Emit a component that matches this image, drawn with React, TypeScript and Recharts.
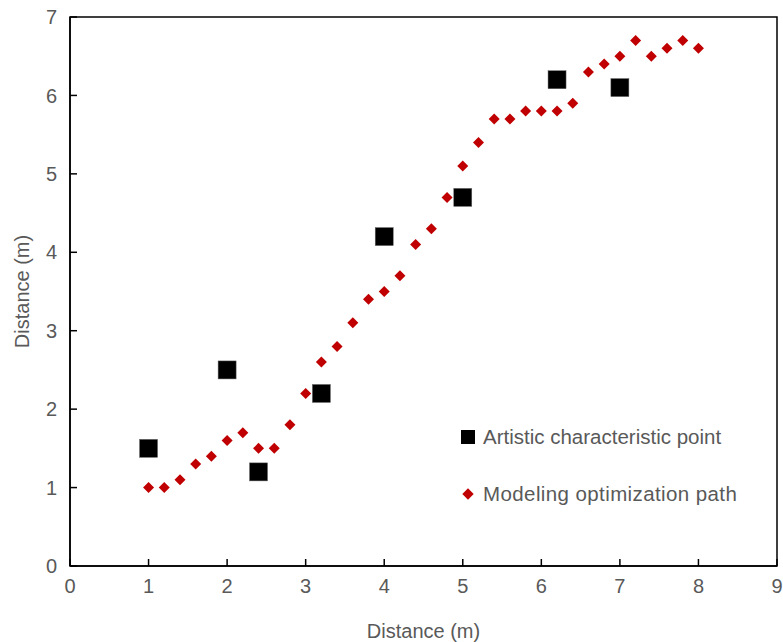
import React from 'react';
import { ScatterChart, Scatter, XAxis, YAxis, ReferenceArea } from 'recharts';

const artisticX = [1, 2, 2.4, 3.2, 4, 5, 6.2, 7];
const artisticY = [1.5, 2.5, 1.2, 2.2, 4.2, 4.7, 6.2, 6.1];

const pathX = [1, 1.2, 1.4, 1.6, 1.8, 2, 2.2, 2.4, 2.6, 2.8, 3, 3.2, 3.4, 3.6, 3.8, 4, 4.2, 4.4, 4.6, 4.8, 5, 5.2, 5.4, 5.6, 5.8, 6, 6.2, 6.4, 6.6, 6.8, 7, 7.2, 7.4, 7.6, 7.8, 8];
const pathY = [1, 1, 1.1, 1.3, 1.4, 1.6, 1.7, 1.5, 1.5, 1.8, 2.2, 2.6, 2.8, 3.1, 3.4, 3.5, 3.7, 4.1, 4.3, 4.7, 5.1, 5.4, 5.7, 5.7, 5.8, 5.8, 5.8, 5.9, 6.3, 6.4, 6.5, 6.7, 6.5, 6.6, 6.7, 6.6];

const xTicks = [0, 1, 2, 3, 4, 5, 6, 7, 8, 9];
const yTicks = [0, 1, 2, 3, 4, 5, 6, 7];

const seriesNames = ['Artistic characteristic point', 'Modeling optimization path'];

const artisticData = artisticX.map((x, i) => ({ x, y: artisticY[i] }));
const pathData = pathX.map((x, i) => ({ x, y: pathY[i] }));

const FONT = "'Liberation Sans', Arial, sans-serif";
const GREY = '#595959';
const RED = '#c00000';

const SquareShape = (props: any) => {
  const { cx, cy } = props;
  return <rect x={cx - 9} y={cy - 9} width={18} height={18} fill="#000" stroke="#666" strokeWidth={0.5} />;
};

const DiamondShape = (props: any) => {
  const { cx, cy } = props;
  const r = 5.5;
  return <polygon points={`${cx},${cy - r} ${cx + r},${cy} ${cx},${cy + r} ${cx - r},${cy}`} fill={RED} />;
};

// legend drawn as plain html so it doesn't eat into the plot margins
const LegendBox = () => (
  <div style={{ position: 'absolute', left: 461, top: 423, fontFamily: FONT, fontSize: 20.5, color: GREY, whiteSpace: 'nowrap' }}>
    <div style={{ display: 'flex', alignItems: 'center', height: 28 }}>
      <span style={{ display: 'inline-block', width: 14, height: 14, background: '#000', marginRight: 8 }} />
      <span>{seriesNames[0]}</span>
    </div>
    <div style={{ display: 'flex', alignItems: 'center', height: 28, marginTop: 29 }}>
      <span style={{ display: 'inline-block', width: 8, height: 8, background: RED, transform: 'rotate(45deg)', marginLeft: 3, marginRight: 11 }} />
      <span style={{ letterSpacing: 0.4 }}>{seriesNames[1]}</span>
    </div>
  </div>
);

export default function App() {
  return (
    <div style={{ position: 'absolute', left: 0, top: 0, width: 783, height: 642, background: '#fff' }}>
      <ScatterChart width={783} height={642} margin={{ top: 17, right: 6, bottom: 0, left: 0 }}>
        <XAxis
          type="number"
          dataKey="x"
          domain={[0, 9]}
          ticks={xTicks}
          height={76}
          tickSize={-7}
          tickMargin={20}
          axisLine={{ stroke: '#000', strokeWidth: 1.5 }}
          tickLine={{ stroke: '#000', strokeWidth: 1.5 }}
          tick={{ fill: GREY, fontSize: 20, fontFamily: FONT }}
          label={{ value: 'Distance (m)', position: 'insideBottom', offset: 4, fill: GREY, fontSize: 20, fontFamily: FONT }}
        />
        <YAxis
          type="number"
          dataKey="y"
          domain={[0, 7]}
          ticks={yTicks}
          width={70}
          tickSize={-7}
          tickMargin={20}
          axisLine={{ stroke: '#000', strokeWidth: 1.5 }}
          tickLine={{ stroke: '#000', strokeWidth: 1.5 }}
          tick={{ fill: GREY, fontSize: 20, fontFamily: FONT }}
          label={{ value: 'Distance (m)', angle: -90, position: 'insideLeft', offset: 22, fill: GREY, fontSize: 20, fontFamily: FONT, style: { textAnchor: 'middle' } }}
        />
        <ReferenceArea x1={0} x2={9} y1={0} y2={7} fill="none" stroke="#000" strokeWidth={1.5} ifOverflow="visible" />
        <Scatter name={seriesNames[1]} data={pathData} shape={<DiamondShape />} isAnimationActive={false} />
        <Scatter name={seriesNames[0]} data={artisticData} shape={<SquareShape />} isAnimationActive={false} />
      </ScatterChart>
      <LegendBox />
    </div>
  );
}
